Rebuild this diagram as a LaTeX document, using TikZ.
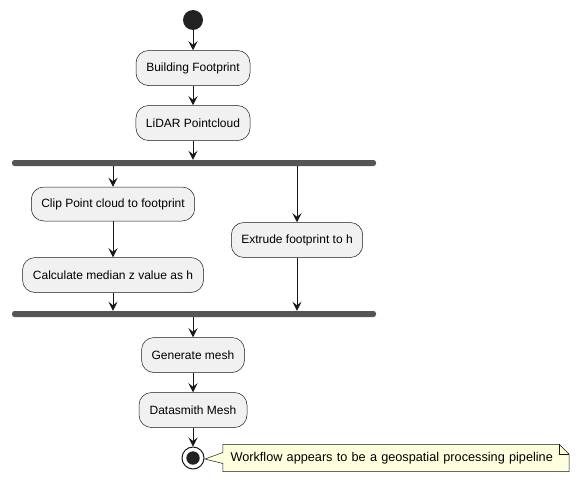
\documentclass[tikz,border=0pt]{standalone}
\usepackage{fontspec}
\setmainfont{Liberation Sans}
\usetikzlibrary{arrows.meta,calc}
\definecolor{boxfill}{HTML}{F1F1F1}
\definecolor{linecol}{HTML}{181818}
\definecolor{barcol}{HTML}{555555}
\definecolor{dotcol}{HTML}{222222}
\definecolor{notefill}{HTML}{FEFFDD}
\begin{document}
\begin{tikzpicture}[x=1pt,y=1pt,
  act/.style={draw=linecol,line width=0.5pt,fill=boxfill,rounded corners=12.5pt,minimum height=35pt,inner xsep=10pt,font=\fontsize{12}{14}\selectfont},
  bar/.style={fill=barcol,rounded corners=2.5pt,minimum width=364pt,minimum height=6pt,inner sep=0pt},
  flow/.style={draw=linecol,line width=0.9pt,-{Stealth[length=9pt,width=9pt,inset=3.5pt]}},
  notetext/.style={text width=331pt,align=left,inner xsep=7.5pt,minimum height=27pt,inner ysep=0pt,font=\fontsize{12.7}{15}\selectfont}]
\useasboundingbox (0,0) rectangle (580,-482);
% start and first steps
\node[circle,fill=dotcol,minimum size=20pt,inner sep=0pt] (start) at (193,-20) {};
\node[act,minimum width=114pt] (footprint) at (193,-68) {Building Footprint};
\node[act,minimum width=114pt] (lidar) at (193,-123) {LiDAR Pointcloud};
\node[bar] (fork) at (194,-163) {};
% parallel branches
\node[act,minimum width=163pt,minimum height=34pt] (clip) at (113,-204) {Clip Point cloud to footprint};
\node[act,minimum width=181pt] (median) at (113,-275) {Calculate median z value as h};
\node[act,minimum width=131pt] (extrude) at (297,-240) {Extrude footprint to h};
\node[bar] (join) at (194,-314) {};
% last steps
\node[act,minimum width=103pt] (mesh) at (193,-355) {Generate mesh};
\node[act,minimum width=108pt] (datasmith) at (193,-410) {Datasmith Mesh};
\node[circle,draw=linecol,line width=1pt,fill=white,minimum size=22pt,inner sep=0pt,
  path picture={\fill[dotcol] (path picture bounding box.center) circle (6.7pt);}] (stop) at (193,-458) {};
% note
\coordinate (tip) at (205,-459);
\path (396,-458) node[notetext] (note) {\phantom{W}};
\draw[draw=linecol,line width=0.5pt,fill=notefill] (note.north west) -- ($(note.north east)+(-10,0)$) -- ($(note.north east)+(0,-10)$) -- (note.south east) -- (note.south west) -- ($(note.west)+(0,-5.5)$) -- (tip) -- ($(note.west)+(0,5.5)$) -- cycle;
\draw[draw=linecol,line width=0.5pt] ($(note.north east)+(-10,0)$) -- ($(note.north east)+(-10,-10)$) -- ($(note.north east)+(0,-10)$);
\node[notetext] at (note) {Workflow appears to be a geospatial processing pipeline};
% connectors
\draw[flow] (start) -- (footprint);
\draw[flow] (footprint) -- (lidar);
\draw[flow] (lidar) -- (lidar |- fork.north);
\draw[flow] (fork.south -| clip) -- (clip);
\draw[flow] (fork.south -| extrude) -- (extrude);
\draw[flow] (clip) -- (median);
\draw[flow] (median) -- (median |- join.north);
\draw[flow] (extrude) -- (extrude |- join.north);
\draw[flow] (join.south -| mesh) -- (mesh);
\draw[flow] (mesh) -- (datasmith);
\draw[flow] (datasmith) -- (stop);
\end{tikzpicture}
\end{document}
